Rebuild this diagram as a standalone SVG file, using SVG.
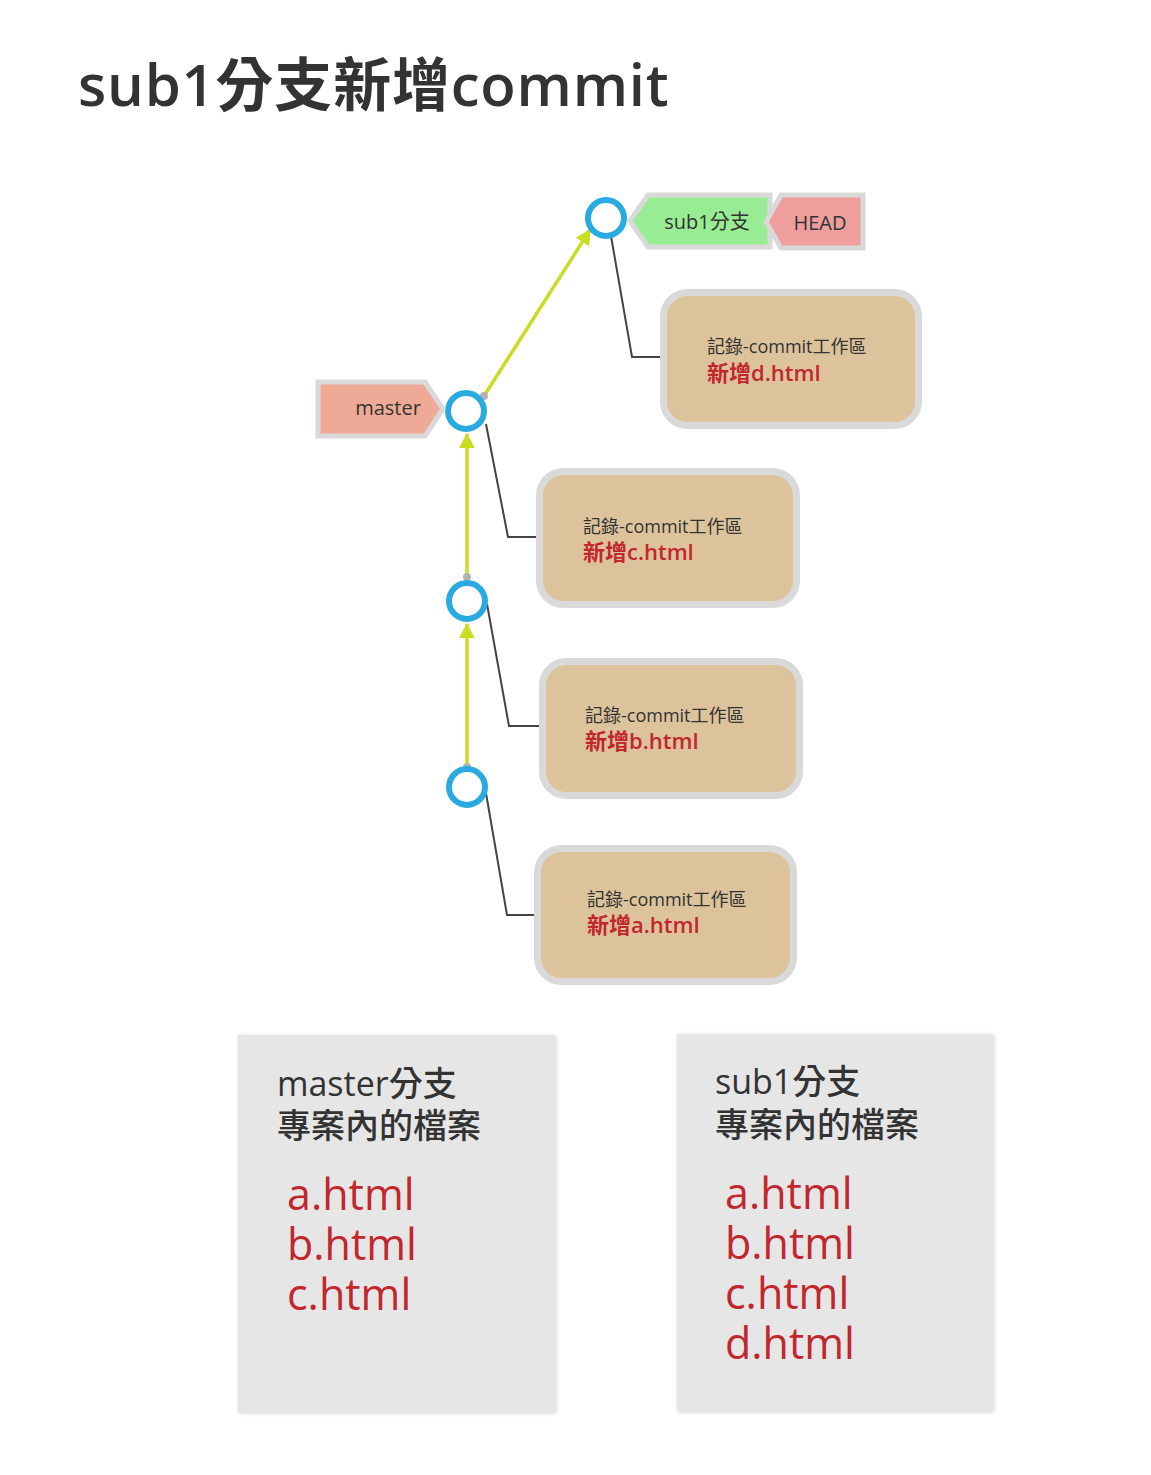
<svg xmlns="http://www.w3.org/2000/svg" width="1151" height="1475" viewBox="0 0 1151 1475">
<style>
text{font-family:"Open Sans","Noto Sans CJK TC",sans-serif;}
.dark{fill:#333333;}
.commit{fill:none;stroke:#29abe2;stroke-width:6;}
.card{fill:#ddc39b;stroke:#d9d9d9;stroke-width:7;}
.edge{fill:none;stroke:#c9dd22;stroke-width:3.5;}
.link{fill:none;stroke:#444444;stroke-width:2;}
.dot{fill:#b3b3b3;}
.t1{font-size:18px;fill:#333333;}
.t2{font-size:22px;fill:#c1272d;font-weight:600;}
.panel{fill:#e6e6e6;}
.ph{font-size:34px;fill:#333333;font-weight:500;}
.pf{font-size:43px;fill:#c1272d;font-weight:500;}
</style>
<defs>
<marker id="ah" viewBox="0 0 10 10" refX="9" refY="5" markerWidth="4.5" markerHeight="4.5" orient="auto" markerUnits="strokeWidth">
<path d="M0,0 L10,5 L0,10 z" fill="#c9dd22"/>
</marker>
<filter id="sh" x="-5%" y="-5%" width="110%" height="110%">
<feDropShadow dx="1" dy="1" stdDeviation="2" flood-color="#000" flood-opacity="0.18"/>
</filter>
</defs>
<rect width="1151" height="1475" fill="#ffffff"/>
<text x="78" y="106" style="font-size:58px;font-weight:600;letter-spacing:0.8px" class="dark">sub1分支新增commit</text>

<g id="connectors">
<line class="edge" x1="484" y1="396" x2="590" y2="230" marker-end="url(#ah)"/>
<line class="edge" x1="467" y1="577" x2="467" y2="434" marker-end="url(#ah)"/>
<line class="edge" x1="467" y1="767" x2="467" y2="624" marker-end="url(#ah)"/>
<circle class="dot" cx="484" cy="396" r="4"/>
<circle class="dot" cx="467" cy="577" r="4"/>
<circle class="dot" cx="467" cy="767" r="4"/>
<polyline class="link" points="611,236 632,357 662,357"/>
<polyline class="link" points="486,424 508,537 538,537"/>
<polyline class="link" points="487,604 509,726 541,726"/>
<polyline class="link" points="486,793 507,915 535,915"/>
</g>

<g id="commit-d"><circle class="commit" cx="606" cy="218" r="18"/></g>
<g id="commit-c"><circle class="commit" cx="466" cy="411" r="18"/></g>
<g id="commit-b"><circle class="commit" cx="467" cy="601" r="18"/></g>
<g id="commit-a"><circle class="commit" cx="467" cy="787" r="18"/></g>

<g id="label-sub1">
<polygon points="630,221 648,195 770,195 770,247 648,247" fill="#98ec94" stroke="#d9d9d9" stroke-width="5"/>
<text x="707" y="229" text-anchor="middle" style="font-size:20px" class="dark">sub1分支</text>
</g>
<g id="label-head">
<polygon points="766,222 781,195 863,195 863,248 781,248" fill="#ee9898" stroke="#d9d9d9" stroke-width="5" fill-opacity="0.95"/>
<text x="820" y="230" text-anchor="middle" style="font-size:20px" class="dark">HEAD</text>
</g>
<g id="label-master">
<polygon points="318,382 425,382 443,409 425,436 318,436" fill="#efaa97" stroke="#d9d9d9" stroke-width="5"/>
<text x="388" y="415" text-anchor="middle" style="font-size:20px" class="dark">master</text>
</g>

<g id="card-d">
<rect class="card" x="663.5" y="292.5" width="255" height="133" rx="24"/>
<text x="707" y="353" class="t1">記錄-commit工作區</text>
<text x="707" y="381" class="t2">新增d.html</text>
</g>
<g id="card-c">
<rect class="card" x="539.5" y="471.5" width="257" height="133" rx="24"/>
<text x="583" y="533" class="t1">記錄-commit工作區</text>
<text x="583" y="560" class="t2">新增c.html</text>
</g>
<g id="card-b">
<rect class="card" x="542.5" y="661.5" width="257" height="134" rx="24"/>
<text x="585" y="722" class="t1">記錄-commit工作區</text>
<text x="585" y="749" class="t2">新增b.html</text>
</g>
<g id="card-a">
<rect class="card" x="537.5" y="848.5" width="256" height="133" rx="24"/>
<text x="587" y="906" class="t1">記錄-commit工作區</text>
<text x="587" y="933" class="t2">新增a.html</text>
</g>

<g id="panel-master">
<rect class="panel" x="238" y="1035" width="317" height="377" filter="url(#sh)"/>
<text class="ph"><tspan x="277" y="1096">master分支</tspan><tspan x="277" y="1138">專案內的檔案</tspan></text>
<text class="pf"><tspan x="287" y="1210">a.html</tspan><tspan x="287" y="1260">b.html</tspan><tspan x="287" y="1310">c.html</tspan></text>
</g>
<g id="panel-sub1">
<rect class="panel" x="677" y="1034" width="316" height="377" filter="url(#sh)"/>
<text class="ph"><tspan x="715" y="1094">sub1分支</tspan><tspan x="715" y="1137">專案內的檔案</tspan></text>
<text class="pf"><tspan x="725" y="1209">a.html</tspan><tspan x="725" y="1259">b.html</tspan><tspan x="725" y="1309">c.html</tspan><tspan x="725" y="1359">d.html</tspan></text>
</g>
</svg>
